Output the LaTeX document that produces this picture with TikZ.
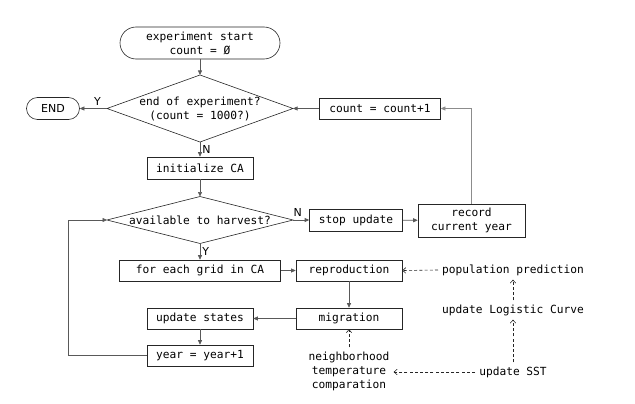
\documentclass[tikz,border=0pt]{standalone}
\usepackage{fontspec}
\setmonofont{DejaVu Sans Mono}
\setsansfont{DejaVu Sans}
\usetikzlibrary{arrows.meta}
\begin{document}
\begin{tikzpicture}[x=1pt,y=-1pt,
  every node/.style={font=\ttfamily\fontsize{11.2}{14}\selectfont, inner sep=0pt, align=center},
  box/.style={draw=black!85, line width=0.6pt, minimum width=#1, minimum height=21pt},
  term/.style={draw=black!85, line width=0.6pt, rounded corners=#1},
  decline/.style={draw=black!85, line width=0.6pt},
  txt/.style={inner sep=4pt},
  flow/.style={draw=black!65, line width=0.6pt, -{Triangle[length=4.5pt,width=4pt]}},
  plain/.style={draw=black!45, line width=0.6pt},
  dasharrow/.style={draw=black!85, line width=0.6pt, dash pattern=on 3pt off 2.2pt, -{Straight Barb[length=3pt,width=5.5pt]}},
  lab/.style={font=\sffamily\fontsize{11}{13}\selectfont}
]
\useasboundingbox (0,0) rectangle (635,404);

% decision 1
\coordinate (d1n) at (200,75);
\coordinate (d1s) at (200,142);
\coordinate (d1w) at (107,108.5);
\coordinate (d1e) at (293,108.5);
\draw[decline] (d1n) -- (d1e) -- (d1s) -- (d1w) -- cycle;
\node (d1) at (200,108.5) {end of experiment?\\(count = 1000?)};

% decision 2
\coordinate (d2n) at (200,196.5);
\coordinate (d2s) at (200,243.5);
\coordinate (d2w) at (107,220);
\coordinate (d2e) at (293,220);
\draw[decline] (d2n) -- (d2e) -- (d2s) -- (d2w) -- cycle;
\node (d2) at (200,220) {available to harvest?};

\node[term=16pt, minimum width=160pt, minimum height=32pt] (start) at (200,43) {experiment start\\count = Ø};
\node[term=11pt, minimum width=53pt, minimum height=22pt, font=\sffamily\fontsize{11}{13}\selectfont] (end) at (53,108.5) {END};
\node[box=121pt] (cnt) at (380,108.5) {count = count+1};
\node[box=106pt, minimum height=22pt] (init) at (200,168) {initialize CA};
\node[box=93pt, minimum height=22pt] (stop) at (356,220) {stop update};
\node[box=107pt, minimum height=33pt] (rec) at (471.5,220.5) {record\\current year};
\node[box=161pt] (grid) at (200,270.5) {for each grid in CA};
\node[box=106pt] (repro) at (349,270.5) {reproduction};
\node[box=106pt] (migr) at (349,318.5) {migration};
\node[box=106pt] (upd) at (200,318.5) {update states};
\node[box=106pt] (year) at (200,355.5) {year = year+1};

\node[txt] (pop) at (513,270) {population prediction};
\node[txt] (logi) at (513,310) {update Logistic Curve};
\node[txt] (sst) at (513,372) {update SST};
\node[txt] (neigh) at (349,371) {neighborhood\\temperature\\comparation};

\coordinate (loop) at (68,355.5);

\draw[flow] (start) -- (d1n);
\draw[flow] (d1w) -- node[lab, above, pos=0.35, yshift=3pt] {Y} (end.east);
\draw[flow] (cnt.west) -- (d1e);
\draw[plain, -{Triangle[length=4.5pt,width=4pt]}] (rec.north) |- (cnt.east);
\draw[flow] (d1s) -- node[lab, right, pos=0.5, xshift=2pt] {N} (init.north);
\draw[flow] (init) -- (d2n);
\draw[flow] (d2e) -- node[lab, above, pos=0.3, yshift=3pt] {N} (stop.west);
\draw[flow] (stop) -- (rec);
\draw[flow] (d2s) -- node[lab, right, pos=0.5, xshift=2pt] {Y} (grid.north);
\draw[flow] (grid) -- (repro);
\draw[flow] (repro) -- (migr);
\draw[flow] (migr) -- (upd);
\draw[flow] (upd) -- (year);
\draw[flow] (year.west) -- (loop) |- (d2w);

\draw[dasharrow] (pop.west) -- (repro.east);
\draw[dasharrow] (logi.north) -- (pop.south);
\draw[dasharrow] (sst.north) -- (logi.south);
\draw[dasharrow] (sst.west) -- (neigh.east |- sst.west);
\draw[dasharrow] (neigh.north) -- (migr.south);
\end{tikzpicture}
\end{document}
